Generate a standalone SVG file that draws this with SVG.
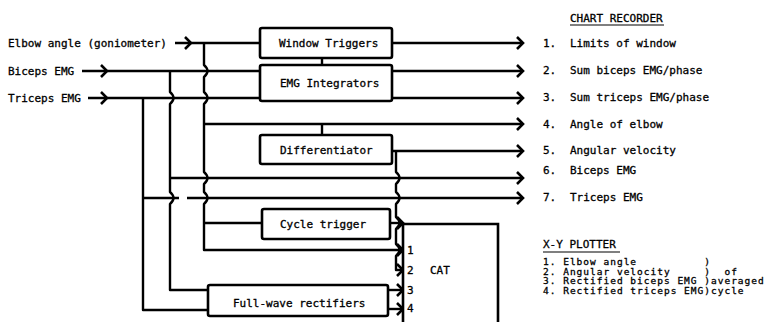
<svg xmlns="http://www.w3.org/2000/svg" width="775" height="322" viewBox="0 0 775 322">
<style>
.ln{fill:none;stroke:#000;stroke-width:2.4;stroke-linejoin:round;stroke-linecap:butt}
.bx{fill:#fff;stroke:#000;stroke-width:2.6}
.ch{fill:none;stroke:#000;stroke-width:2.6;stroke-linejoin:miter}
text{font-family:"DejaVu Sans Mono","Liberation Mono",monospace;font-size:11px;fill:#000;stroke:#000;stroke-width:0.3}
.sm{font-size:9.5px;letter-spacing:1px}
.ul{stroke:#000;stroke-width:1.2}
</style>
<defs>
<path id="chev" class="ch" d="M-6,-6 L0,0 L-6,6"/>
</defs>
<g id="connectors">
<path class="ln" d="M175,43 L260,43"/>
<path class="ln" d="M82,71 L260,71"/>
<path class="ln" d="M88,98 L260,98"/>
<path class="ln" d="M204,43 L204,65 Q211,71 204,77 L204,92 Q211,98 204,104 L204,172 Q211,178 204,184 L204,192 Q211,198 204,204 L204,250 L402,250"/>
<path class="ln" d="M170,71 L170,92 Q177,98 170,104 L170,192 Q177,198 170,204 L170,290 L208,290"/>
<path class="ln" d="M143,98 L143,310 L208,310"/>
<path class="ln" d="M204,124 L522,124"/>
<path class="ln" d="M322,124 L322,135"/>
<path class="ln" d="M322,58 L322,65"/>
<path class="ln" d="M204,223 L262,223"/>
<path class="ln" d="M170,178 L522,178"/>
<path class="ln" d="M143,198 L179,198 M187,198 L522,198"/>
<path class="ln" d="M392,43 L522,43"/>
<path class="ln" d="M392,71 L522,71"/>
<path class="ln" d="M392,98 L522,98"/>
<path class="ln" d="M392,151 L522,151"/>
<path class="ln" d="M396,151 L396,172 Q403,178 396,184 L396,192 Q403,198 396,204 L396,217 Q403,223 396,229 L396,244 Q403,250 396,256 L396,270 L402,270"/>
<path class="ln" d="M390,223 L402,223"/>
<path class="ln" d="M388,290 L402,290"/>
<path class="ln" d="M388,309 L402,309"/>
<use href="#chev" x="191" y="43"/>
<use href="#chev" x="107" y="71"/>
<use href="#chev" x="107" y="98"/>
<use href="#chev" x="523" y="43"/>
<use href="#chev" x="523" y="71"/>
<use href="#chev" x="523" y="98"/>
<use href="#chev" x="523" y="124"/>
<use href="#chev" x="523" y="151"/>
<use href="#chev" x="523" y="178"/>
<use href="#chev" x="523" y="198"/>
<use href="#chev" x="403" y="223"/>
<use href="#chev" x="403" y="250"/>
<use href="#chev" x="403" y="270"/>
<use href="#chev" x="403" y="290"/>
<use href="#chev" x="403" y="309"/>
</g>
<g id="inputs">
<text x="8" y="47">Elbow angle (goniometer)</text>
<text x="8" y="75">Biceps EMG</text>
<text x="8" y="102">Triceps EMG</text>
</g>
<g id="window-triggers">
<rect class="bx" x="260" y="28" width="132" height="30" rx="2"/>
<text x="279" y="47">Window Triggers</text>
</g>
<g id="emg-integrators">
<rect class="bx" x="260" y="65" width="132" height="36" rx="2"/>
<text x="280" y="87">EMG Integrators</text>
</g>
<g id="differentiator">
<rect class="bx" x="260" y="135" width="132" height="29" rx="2"/>
<text x="280" y="154">Differentiator</text>
</g>
<g id="cycle-trigger">
<rect class="bx" x="262" y="209" width="128" height="30" rx="2"/>
<text x="280" y="228">Cycle trigger</text>
</g>
<g id="full-wave-rectifiers">
<rect class="bx" x="208" y="285" width="180" height="31" rx="2"/>
<text x="233" y="307">Full-wave rectifiers</text>
</g>
<g id="cat">
<path class="bx" d="M403,330 L403,224 L498,224 L498,330"/>
<text x="430" y="274">CAT</text>
<text x="407" y="254">1</text>
<text x="407" y="274">2</text>
<text x="407" y="294">3</text>
<text x="407" y="312">4</text>
</g>
<g id="chart-recorder">
<text x="570" y="22">CHART RECORDER</text>
<line class="ul" x1="570" y1="25" x2="664" y2="25"/>
<text x="543" y="47">1.</text><text x="570" y="47">Limits of window</text>
<text x="543" y="74">2.</text><text x="570" y="74">Sum biceps EMG/phase</text>
<text x="543" y="101">3.</text><text x="570" y="101">Sum triceps EMG/phase</text>
<text x="543" y="128">4.</text><text x="570" y="128">Angle of elbow</text>
<text x="543" y="154">5.</text><text x="570" y="154">Angular velocity</text>
<text x="543" y="174">6.</text><text x="570" y="174">Biceps EMG</text>
<text x="543" y="201">7.</text><text x="570" y="201">Triceps EMG</text>
</g>
<g id="xy-plotter">
<text x="543" y="248">X-Y PLOTTER</text>
<line class="ul" x1="543" y1="252" x2="620" y2="252"/>
<text class="sm" x="543" y="265" xml:space="preserve">1. Elbow angle          )</text>
<text class="sm" x="543" y="274.5" xml:space="preserve">2. Angular velocity     )  of</text>
<text class="sm" x="543" y="284" xml:space="preserve">3. Rectified biceps EMG )averaged</text>
<text class="sm" x="543" y="293.5" xml:space="preserve">4. Rectified triceps EMG)cycle</text>
</g>
</svg>
